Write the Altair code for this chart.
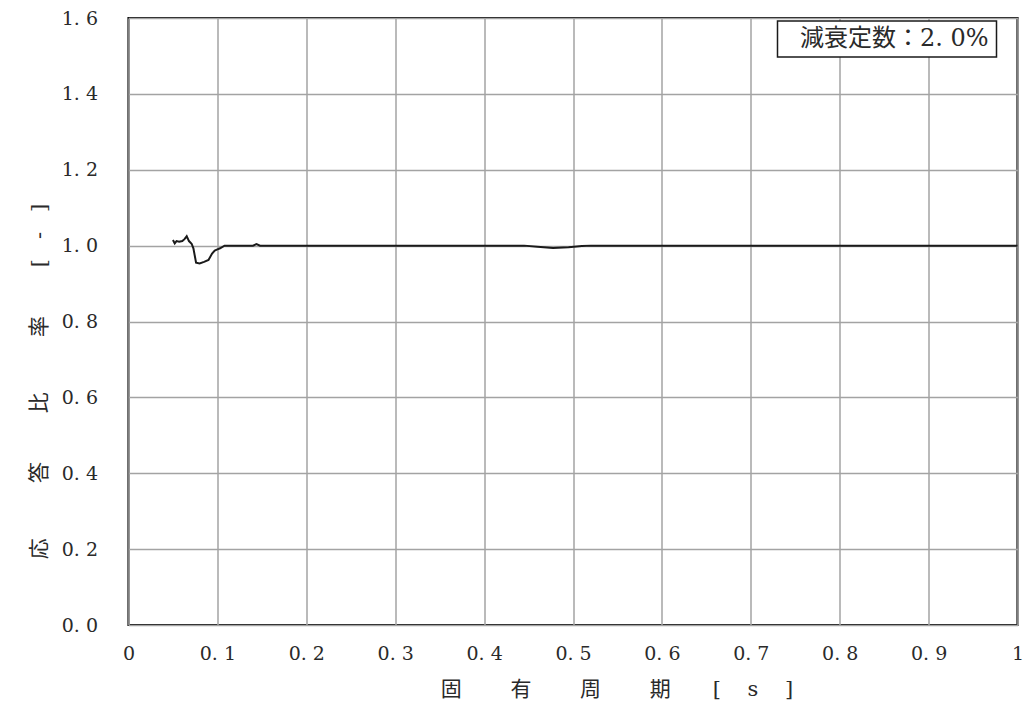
import altair as alt
import pandas as pd

# Natural period [s] and response ratio [-]
period = [0.050, 0.052, 0.054, 0.057, 0.0605, 0.063, 0.0655, 0.068, 0.071, 0.073,
          0.076, 0.080, 0.085, 0.090, 0.094, 0.097, 0.100, 0.103, 0.108, 0.120,
          0.140, 0.144, 0.148, 0.200, 0.300, 0.400, 0.445, 0.460, 0.4775, 0.495,
          0.510, 0.520, 0.600, 0.700, 0.800, 0.900, 1.000]
ratio = [1.015, 1.006, 1.012, 1.010, 1.012, 1.017, 1.025, 1.012, 1.005, 0.993,
         0.955, 0.953, 0.957, 0.962, 0.979, 0.987, 0.990, 0.993, 1.000, 1.000,
         1.000, 1.004, 1.000, 1.000, 1.000, 1.000, 1.000, 0.997, 0.994, 0.996,
         0.999, 1.000, 1.000, 1.000, 1.000, 1.000, 1.000]

x_ticks = [0.0, 0.1, 0.2, 0.3, 0.4, 0.5, 0.6, 0.7, 0.8, 0.9, 1.0]
y_ticks = [0.0, 0.2, 0.4, 0.6, 0.8, 1.0, 1.2, 1.4, 1.6]

legend_text = ["減衰定数：2.\u00a00%"]

S = "\u3000"   # ideographic space
N = "\u00a0"   # no-break space
x_title = ("固" + S * 2 + N + "有" + S * 2 + N + "周" + S * 2 + N + "期"
           + S * 2 + "[" + N * 4 + "s" + N * 4 + "]")
y_title = ("応" + S * 2 + N * 2 + "答" + S * 2 + N + "比" + S * 2 + N * 2 + "率"
           + S * 2 + N + "[" + N * 3 + "-" + N * 3 + "]")

FONT = "DejaVu Serif, Noto Sans CJK JP"

df = pd.DataFrame({"period": period, "ratio": ratio})
df_leg = pd.DataFrame({"label": legend_text})

x_axis = alt.Axis(
    values=x_ticks, grid=True, ticks=False, domain=False,
    labelExpr="datum.value == 0 ? '0' : datum.value == 1 ? '1' : replace(format(datum.value, '.1f'), '.', '.\u00a0')",
    labelFont=FONT, labelFontSize=19, labelColor="#2a2a2a", labelPadding=19,
    title=x_title, titleFont=FONT, titleFontSize=21, titleFontWeight="normal",
    titleColor="#2a2a2a", titleX=488, titleY=64, titleAlign="center", titleBaseline="middle",
    labelFlush=False,
)
y_axis = alt.Axis(
    values=y_ticks, grid=True, ticks=False, domain=False,
    labelExpr="replace(format(datum.value, '.1f'), '.', '.\u00a0')",
    labelFont=FONT, labelFontSize=19, labelColor="#2a2a2a", labelPadding=31,
    title=y_title, titleFont=FONT, titleFontSize=21, titleFontWeight="normal",
    titleColor="#2a2a2a", titleX=-89, titleY=363, titleAngle=-90,
    titleAlign="center", titleBaseline="middle", labelFlush=False,
)

line = alt.Chart(df).mark_line(color="#1a1a1a", strokeWidth=2).encode(
    x=alt.X("period:Q", scale=alt.Scale(domain=[0, 1], nice=False), axis=x_axis),
    y=alt.Y("ratio:Q", scale=alt.Scale(domain=[0, 1.6], nice=False), axis=y_axis),
)

box = alt.Chart(df_leg).mark_rect(fill="white", stroke="#1a1a1a", strokeWidth=1.5).encode(
    x=alt.value(649), x2=alt.value(868), y=alt.value(3), y2=alt.value(39),
)
txt = alt.Chart(df_leg).mark_text(
    align="left", baseline="middle", font=FONT, fontSize=24, color="#2a2a2a"
).encode(
    x=alt.value(671.5), y=alt.value(20.5), text="label:N",
)

chart = alt.layer(line, box, txt).properties(
    width=889, height=607,
    autosize=alt.AutoSizeParams(type="none"),
    padding={"left": 120.5, "top": 10, "right": 10, "bottom": 82},
).configure_view(
    stroke="#111", strokeWidth=2.2,
).configure_axis(
    gridColor="#a3a3a3", gridWidth=1.5, gridOpacity=1,
)

chart.save("out.html", embed_options={"renderer": "svg", "actions": False})
